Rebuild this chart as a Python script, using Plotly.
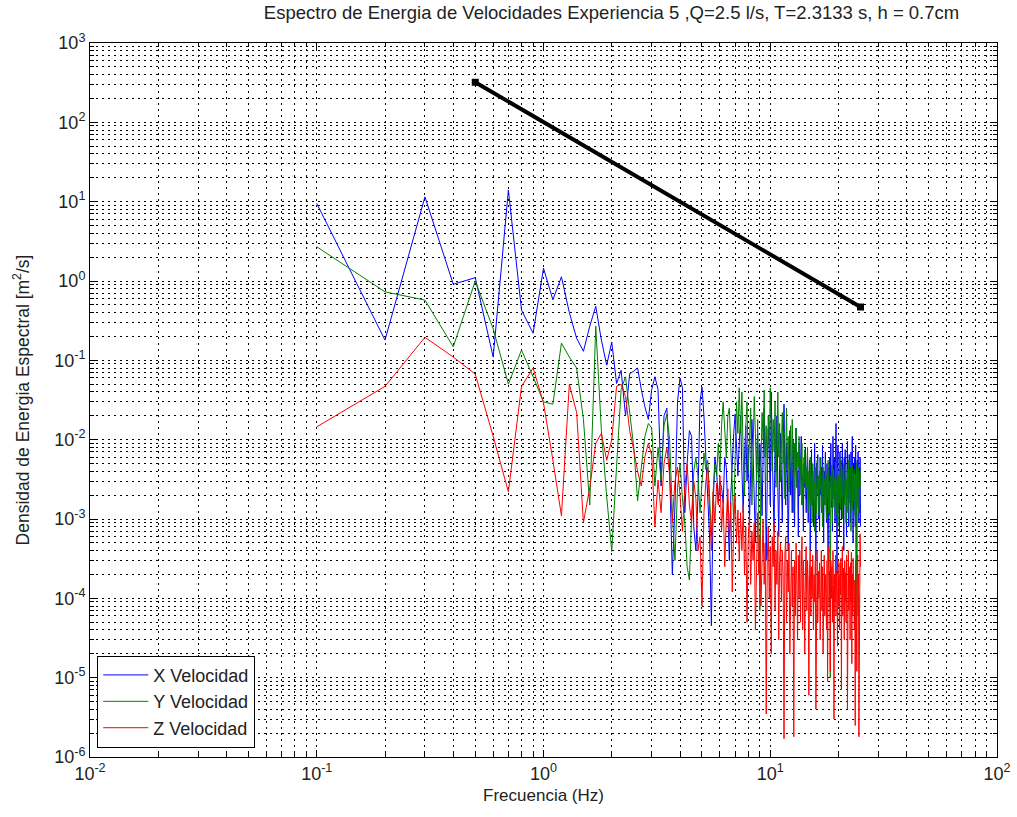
import numpy as np
import plotly.graph_objects as go

# ---------------- data ----------------
# X velocity spectrum, f = 0.1 ... 25.0 Hz in 0.1 Hz steps
x_vel = [
    9.5, 0.18, 11.5, 0.91, 1.1, 0.11, 14, 0.43, 0.22, 1.45,
    0.58, 1.13, 0.4, 0.19, 0.13, 0.27, 0.48, 0.18, 0.087, 0.17,
    0.051, 0.075, 0.02, 0.068, 0.073, 0.08, 0.043, 0.026, 0.018, 0.043,
    0.062, 0.043,
    # 3.3 - 7.3
    0.0026, 0.02, 0.025, 0.004, 0.0002, 0.0015, 0.03, 0.06, 0.045, 0.0012,
    0.005, 0.013, 0.011, 0.0008, 0.0004, 0.002, 0.03, 0.046, 0.02, 0.0053,
    0.002, 0.0006, 0.000045, 0.0015, 0.006, 0.004, 0.0016, 0.003, 0.0025, 0.0016,
    0.006, 0.0045, 0.0012, 0.0003, 0.002, 0.0055, 0.012, 0.021, 0.008, 0.0035,
    0.009,
    # 7.4 - 25.0
    0.02, 0.004, 0.0012, 0.006, 0.015, 0.003, 0.008, 0.0009, 0.005, 0.018,
    0.007, 0.0025, 0.0005, 0.004, 0.012, 0.002, 0.009, 0.0045, 0.0011, 0.006,
    0.025, 0.004, 0.0003, 0.003, 0.014, 0.008, 0.0015, 0.04, 0.006, 0.002,
    0.0007, 0.01, 0.004, 0.02, 0.0025, 0.0006, 0.005, 0.012, 0.003, 0.0009,
    0.006, 0.028, 0.004, 0.0015, 0.009, 0.0035, 0.0004, 0.007, 0.013, 0.002,
    0.005, 0.0012, 0.01, 0.003, 0.0008, 0.006, 0.014, 0.0025, 0.004, 0.0006,
    0.009, 0.002, 0.005, 0.011, 0.0015, 0.0035, 0.0007, 0.006, 0.0025, 0.008,
    0.0012, 0.004, 0.007, 0.0009, 0.003, 0.0055, 0.0004, 0.002, 0.0075, 0.0015,
    0.004, 0.0008, 0.003, 0.009, 0.0018, 0.0003, 0.005, 0.0025, 0.0065, 0.001,
    0.0035, 0.0007, 0.006, 0.002, 0.0045, 0.0012, 0.0085, 0.0025, 0.0005, 0.004,
    0.0015, 0.007, 0.003, 0.0009, 0.005, 0.002, 0.0003, 0.0045, 0.0011, 0.006,
    0.0025, 0.009, 0.0014, 0.004, 0.0007, 0.011, 0.003, 0.0018, 0.006, 0.0009,
    0.0045, 0.016, 0.002, 0.0002, 0.005, 0.0085, 0.0013, 0.003, 0.0006, 0.007,
    0.0022, 0.0055, 0.001, 0.0035, 0.009, 0.0015, 0.0045, 0.0004, 0.006, 0.002,
    0.0075, 0.0012, 0.003, 0.0006, 0.005, 0.0095, 0.0018, 0.004, 0.0008, 0.0065,
    0.0025, 0.0045, 0.0009, 0.007, 0.0015, 0.0035, 0.011, 0.002, 0.0005, 0.005,
    0.0013, 0.006, 0.003, 0.0008, 0.0085, 0.0022, 0.004, 0.0003, 0.0055, 0.0017,
    0.007, 0.0026, 0.0009, 0.0045, 0.0012, 0.006, 0.0008,
]

# Y velocity spectrum
y_vel = [
    2.7, 0.73, 0.575, 0.148, 1.0, 0.25, 0.05, 0.135, 0.062, 0.03,
    0.028, 0.165, 0.11, 0.08, 0.018, 0.0015, 0.27, 0.013, 0.0019, 0.00039,
    0.0046, 0.043, 0.062, 0.021, 0.0081, 0.0017, 0.0046, 0.011, 0.016, 0.014,
    0.0026, 0.008,
    # 3.3 - 7.3
    0.003, 0.015, 0.021, 0.01, 0.0012, 0.0003, 0.0025, 0.005, 0.0018, 0.0009,
    0.00025, 0.00017, 0.0011, 0.004, 0.006, 0.0035, 0.0012, 0.003, 0.0068, 0.0042,
    0.0055, 0.002, 0.0006, 0.0022, 0.005, 0.0035, 0.009, 0.004, 0.015, 0.03,
    0.012, 0.006, 0.02, 0.025, 0.008, 0.002, 0.0009, 0.006, 0.03, 0.012,
    0.045,
    # 7.4 - 25.0
    0.012, 0.04, 0.006, 0.002, 0.015, 0.03, 0.004, 0.009, 0.025, 0.0015,
    0.008, 0.035, 0.012, 0.003, 0.018, 0.0009, 0.00007, 0.005, 0.022, 0.01,
    0.042, 0.006, 0.015, 0.003, 0.02, 0.008, 0.045, 0.012, 0.004, 0.018,
    0.007, 0.03, 0.0025, 0.011, 0.04, 0.006, 0.016, 0.003, 0.009, 0.022,
    0.005, 0.013, 0.0018, 0.008, 0.025, 0.004, 0.011, 0.0022, 0.007, 0.015,
    0.003, 0.018, 0.006, 0.0012, 0.009, 0.004, 0.014, 0.0025, 0.007, 0.0045,
    0.011, 0.002, 0.006, 0.0035, 0.009, 0.0015, 0.005, 0.0028, 0.0075, 0.0018,
    0.0045, 0.0025, 0.008, 0.0012, 0.004, 0.0022, 0.006, 0.0015, 0.0035, 0.0009,
    0.005, 0.0018, 0.003, 0.0007, 0.0045, 0.0025, 0.0012, 0.0055, 0.002, 0.0035,
    0.0011, 0.004, 0.0024, 0.006, 0.0014, 0.003, 0.0008, 0.0045, 0.002, 0.0032,
    0.0015, 0.005, 0.0026, 0.001, 0.0038, 0.0019, 0.0055, 0.0012, 0.003, 0.0022,
    0.00001, 0.0035, 0.0017, 0.0048, 0.0009, 0.0028, 0.0042, 0.0014, 0.0033, 0.002,
    0.0052, 0.0011, 0.003, 0.0021, 0.0045, 0.0008, 0.0036, 0.0016, 0.0027, 0.006,
    0.0013, 0.0034, 0.0019, 0.0043, 0.001, 0.0029, 0.0022, 0.005, 0.0015, 0.0031,
    0.0024, 0.0047, 0.0009, 0.0032, 0.0018, 0.0041, 0.0012, 0.0028, 0.0055, 0.0016,
    0.0035, 0.0021, 0.0044, 0.0007, 0.003, 0.0019, 0.0048, 0.0013, 0.0026, 0.0038,
    0.0017, 0.0042, 0.0023, 0.0011, 0.0036, 0.00002, 0.0029, 0.0051, 0.0014, 0.0033,
    0.0022, 0.0045, 0.0012, 0.003, 0.0019, 0.004, 0.0025,
]

# Z velocity spectrum
z_vel = [
    0.0145, 0.047, 0.195, 0.11, 0.067, 0.011, 0.0022, 0.047, 0.08, 0.029,
    0.0055, 0.0011, 0.05, 0.022, 0.0009, 0.0025, 0.009, 0.012, 0.0055, 0.01,
    0.047, 0.05, 0.035, 0.013, 0.0074, 0.004, 0.0026, 0.0061, 0.009, 0.0064,
    0.0008, 0.0031,
    # 3.3 - 7.3
    0.0012, 0.005, 0.008, 0.0035, 0.0009, 0.003, 0.0045, 0.002, 0.0007, 0.0025,
    0.005, 0.0015, 0.0009, 0.003, 0.0018, 0.0004, 0.0006, 0.00008, 0.0012, 0.003,
    0.0045, 0.0016, 0.0004, 0.0022, 0.0009, 0.0028, 0.0015, 0.0035, 0.0007, 0.0018,
    0.00025, 0.001, 0.0024, 0.0006, 0.0016, 0.00012, 0.0009, 0.002, 0.0005, 0.0013,
    0.0003,
    # 7.4 - 25.0
    0.0012, 0.0004, 0.0015, 0.0002, 0.0008, 0.00005, 0.0006, 0.0011, 0.00015, 0.0007,
    0.0003, 0.0009, 0.00004, 0.0005, 0.0012, 0.0002, 0.0006, 0.00008, 0.0004, 0.001,
    0.00015, 0.0005, 0.0000035, 0.0003, 0.0008, 0.0001, 0.00045, 0.00002, 0.0006, 0.00025,
    0.0009, 0.00007, 0.0004, 0.00015, 0.0007, 0.00003, 0.0003, 0.0005, 0.00009, 0.0004,
    0.0002, 0.0000017, 0.00035, 0.0006, 0.00005, 0.0003, 0.00012, 0.0005, 0.00002, 0.0002,
    0.0004, 0.00008, 0.00025, 0.0000018, 0.0003, 0.00006, 0.0005, 0.00015, 0.00003, 0.00035,
    0.0001, 0.0004, 0.00005, 0.0002, 0.0006, 0.00004, 0.0003, 0.00012, 0.00002, 0.00025,
    0.00045, 0.00007, 0.0003, 0.00015, 0.000006, 0.0002, 0.0004, 0.00006, 0.00025, 0.0001,
    0.00035, 0.00004, 0.0002, 0.00009, 0.0003, 0.000004, 0.00015, 0.0004, 0.00005, 0.00022,
    0.0001, 0.00028, 0.00003, 0.00018, 0.0004, 0.00007, 0.00025, 0.00002, 0.00015, 0.00035,
    0.00006, 0.0002, 0.00012, 0.00004, 0.0003, 0.000009, 0.00018, 0.00045, 0.00008, 0.00022,
    0.000012, 0.0003, 0.0001, 0.00025, 0.00005, 0.0004, 0.00015, 0.000003, 0.0002, 0.00009,
    0.00035, 0.00006, 0.00022, 0.00013, 0.000025, 0.0003, 0.00008, 0.0002, 0.00004, 0.00028,
    0.00011, 0.00032, 0.000007, 0.00018, 0.00045, 0.00006, 0.00024, 0.00012, 0.00003, 0.0003,
    0.00009, 0.00021, 0.00005, 0.00035, 0.00014, 0.000004, 0.00019, 0.0004, 0.00007, 0.00025,
    0.00012, 0.00003, 0.00028, 0.00009, 0.00038, 0.000015, 0.0002, 0.00006, 0.00032, 0.00011,
    0.00024, 0.00004, 0.00017, 0.0000025, 0.0003, 0.00008, 0.00022, 0.000012, 0.00015, 0.00035,
    0.00006, 0.0002, 0.0000018, 0.00012, 0.0003, 0.00065, 0.00025,
]

# reference slope line (-5/3), end points
ref_f = [0.5, 25.0]
ref_s = [320.0, 0.47]

series_names = ["X Velocidad", "Y Velocidad", "Z Velocidad"]
series_colors = ["#0000FF", "#008000", "#FF0000"]

x_tick_exp = [-2, -1, 0, 1, 2]
y_tick_exp = [-6, -5, -4, -3, -2, -1, 0, 1, 2, 3]

# ---------------- figure ----------------
fig = go.Figure()
for name, vals, col in zip(series_names, [x_vel, y_vel, z_vel], series_colors):
    freq = np.arange(1, len(vals) + 1) / 10.0
    fig.add_trace(go.Scatter(x=freq, y=vals, mode="lines", name=name,
                             line=dict(color=col, width=1)))

fig.add_trace(go.Scatter(x=ref_f, y=ref_s, mode="lines+markers", showlegend=False,
                         line=dict(color="black", width=4),
                         marker=dict(symbol="square", size=7, color="black")))

def minor_vals(exps):
    out = []
    for e in exps[:-1]:
        for m in range(2, 10):
            out.append(m * 10.0 ** e)
    return out

def sup_labels(exps):
    return ["10<sup>%d</sup>" % e for e in exps]

font_family = "Liberation Sans, Arial, sans-serif"
grid_dash = "2px,4px"
txt_col = "#222222"

axis_common = dict(
    type="log", showline=True, linecolor="black", linewidth=1, mirror="ticks",
    ticks="inside", ticklen=7, tickcolor="black", tickwidth=1,
    showgrid=True, gridcolor="black", gridwidth=1, griddash=grid_dash,
    zeroline=False, tickfont=dict(family=font_family, size=18, color=txt_col),
    tickmode="array", automargin=False,
)

fig.update_xaxes(
    **axis_common,
    range=[-2, 2],
    tickvals=[10.0 ** e for e in x_tick_exp],
    ticktext=sup_labels(x_tick_exp),
    minor=dict(tickmode="array", tickvals=minor_vals(x_tick_exp), ticks="inside",
               ticklen=4, tickcolor="black", showgrid=True, gridcolor="black",
               gridwidth=1, griddash=grid_dash),
    title=dict(text="Frecuencia (Hz)", font=dict(family=font_family, size=17, color=txt_col),
               standoff=6),
)
fig.update_yaxes(
    **axis_common,
    range=[-6, 3],
    tickvals=[10.0 ** e for e in y_tick_exp],
    ticktext=sup_labels(y_tick_exp),
    minor=dict(tickmode="array", tickvals=minor_vals(y_tick_exp), ticks="inside",
               ticklen=4, tickcolor="black", showgrid=True, gridcolor="black",
               gridwidth=1, griddash=grid_dash),
    title=dict(text="Densidad de Energia Espectral [m<sup>2</sup>/s]",
               font=dict(family=font_family, size=17.5, color=txt_col), standoff=20),
)

fig.update_layout(
    width=1017, height=817,
    margin=dict(l=90, r=20, t=43, b=60),
    paper_bgcolor="white", plot_bgcolor="white",
    title=dict(text="Espectro de Energia de Velocidades Experiencia 5 ,Q=2.5 l/s, T=2.3133 s, h = 0.7cm",
               x=0.575, xanchor="center", xref="paper", y=0.992, yanchor="top",
               font=dict(family=font_family, size=18.5, color=txt_col)),
    legend=dict(x=0.008, y=0.013, xanchor="left", yanchor="bottom",
                bgcolor="white", bordercolor="black", borderwidth=1,
                font=dict(family=font_family, size=18, color=txt_col),
                tracegroupgap=0, itemwidth=45),
    font=dict(family=font_family),
)

fig.write_html("out.html")
